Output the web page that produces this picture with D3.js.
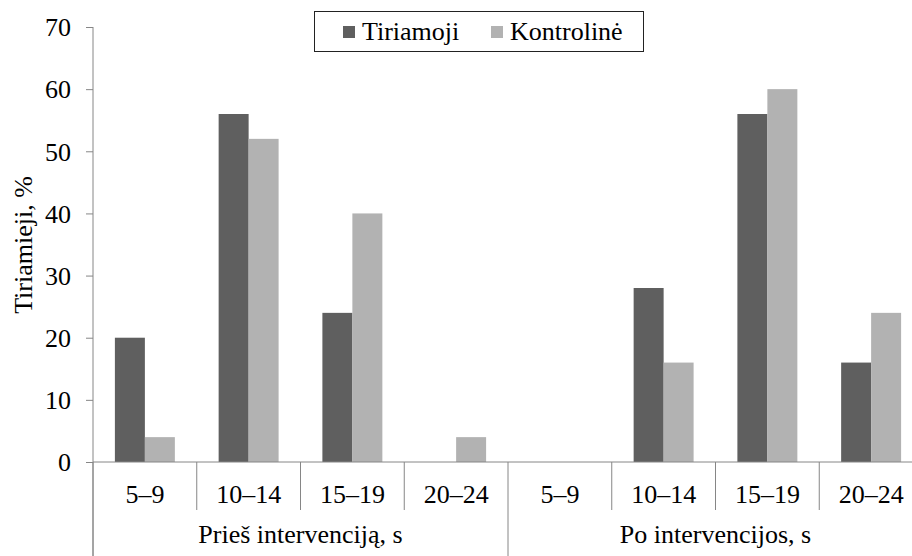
<!DOCTYPE html>
<html>
<head>
<meta charset="utf-8">
<script src="https://cdn.jsdelivr.net/npm/d3@7"></script>
<style>
  svg text { font-family: "Liberation Serif", serif !important; }
</style>
</head>
<body style="margin:0">
<div id="bar"></div>
<script>
// Data
const categories = ["5–9", "10–14", "15–19", "20–24", "5–9", "10–14", "15–19", "20–24"];
const groups = ["Prieš intervenciją, s", "Po intervencijos, s"];
const seriesNames = ["Tiriamoji", "Kontrolinė"];
const tiriamoji = [20, 56, 24, 0, 0, 28, 56, 16];
const kontroline = [4, 52, 40, 4, 0, 16, 60, 24];
const yTicks = [0, 10, 20, 30, 40, 50, 60, 70];

const colors = ["#5f5f5f", "#b2b2b2"];
const axisColor = "#868686";
const fontFam = "Liberation Serif";
const fontSize = 26;

// helper so every label gets the same serif face
function label(sel) {
    return sel
        .attr("font-family", fontFam)
        .attr("font-size", fontSize)
        .style("font-family", "'Liberation Serif', serif", "important")
        .attr("fill", "#000");
}

function drawBarChart() {
    const W = 912, H = 556;
    const left = 93, right = 923, top = 27, bottom = 462;

    const data = categories.map((c, i) => ({
        idx: i,
        label: c,
        values: [tiriamoji[i], kontroline[i]]
    }));

    const svg = d3.select("#bar").append("svg")
        .attr("width", W)
        .attr("height", H)
        .attr("font-family", fontFam);

    // X scales: categories and series within each category
    const x = d3.scaleBand()
        .domain(d3.range(categories.length))
        .range([left, right])
        .padding(0);
    const xs = d3.scaleBand()
        .domain(d3.range(seriesNames.length))
        .range([0, x.bandwidth()])
        .paddingInner(0)
        .paddingOuter(0.73);

    const y = d3.scaleLinear()
        .domain([0, 70])
        .range([bottom, top]);

    // Y axis
    const yAxis = svg.append("g")
        .attr("transform", `translate(${left},0)`)
        .call(d3.axisLeft(y).tickValues(yTicks).tickSize(7).tickSizeOuter(0).tickPadding(15));
    yAxis.attr("font-family", fontFam).attr("font-size", fontSize);
    yAxis.select(".domain").remove();
    yAxis.selectAll(".tick line").attr("stroke", axisColor);
    yAxis.selectAll(".tick text")
        .call(label)
        .attr("dy", "0.34em");

    // Bars
    const cat = svg.selectAll(".cat")
        .data(data)
        .enter()
        .append("g")
        .attr("class", "cat")
        .attr("transform", d => `translate(${x(d.idx)},0)`);

    cat.selectAll("rect")
        .data(d => d.values.map((v, s) => ({ v, s })))
        .enter()
        .append("rect")
        .attr("x", d => xs(d.s))
        .attr("y", d => y(d.v))
        .attr("width", xs.bandwidth())
        .attr("height", d => y(0) - y(d.v))
        .attr("fill", d => colors[d.s]);

    // Vertical axis line (runs down into the group separator)
    svg.append("line")
        .attr("x1", left).attr("x2", left)
        .attr("y1", top).attr("y2", H)
        .attr("stroke", axisColor);

    // Horizontal axis line
    svg.append("line")
        .attr("x1", left).attr("x2", right)
        .attr("y1", bottom).attr("y2", bottom)
        .attr("stroke", axisColor);

    // Category separators
    const bounds = d3.range(categories.length + 1);
    svg.selectAll(".sep")
        .data(bounds)
        .enter()
        .append("line")
        .attr("class", "sep")
        .attr("x1", i => i < categories.length ? x(i) : right)
        .attr("x2", i => i < categories.length ? x(i) : right)
        .attr("y1", bottom)
        .attr("y2", i => i % 4 === 0 ? H : 510)
        .attr("stroke", axisColor);

    // Category labels
    svg.selectAll(".catlabel")
        .data(data)
        .enter()
        .append("text")
        .attr("x", d => x(d.idx) + x.bandwidth() / 2)
        .attr("y", 503)
        .attr("text-anchor", "middle")
        .call(label)
        .text(d => d.label);

    // Group labels
    svg.selectAll(".grouplabel")
        .data(groups)
        .enter()
        .append("text")
        .attr("x", (g, i) => (x(i * 4) + (i === 0 ? x(4) : right)) / 2)
        .attr("y", 543)
        .attr("text-anchor", "middle")
        .call(label)
        .text(g => g);

    // Y axis title
    svg.append("text")
        .attr("transform", "translate(32,245) rotate(-90)")
        .attr("text-anchor", "middle")
        .call(label)
        .text("Tiriamieji, %");

    // Legend
    const legend = svg.append("g");
    legend.append("rect")
        .attr("x", 314.5).attr("y", 11.5)
        .attr("width", 329).attr("height", 40)
        .attr("fill", "#fff")
        .attr("stroke", "#222");
    const legX = [343, 491];
    seriesNames.forEach((name, i) => {
        legend.append("rect")
            .attr("x", legX[i]).attr("y", 26)
            .attr("width", 12).attr("height", 12)
            .attr("fill", colors[i]);
        legend.append("text")
            .attr("x", legX[i] + 19)
            .attr("y", 40)
            .call(label)
            .text(name);
    });
}

drawBarChart();
</script>
</body>
</html>
